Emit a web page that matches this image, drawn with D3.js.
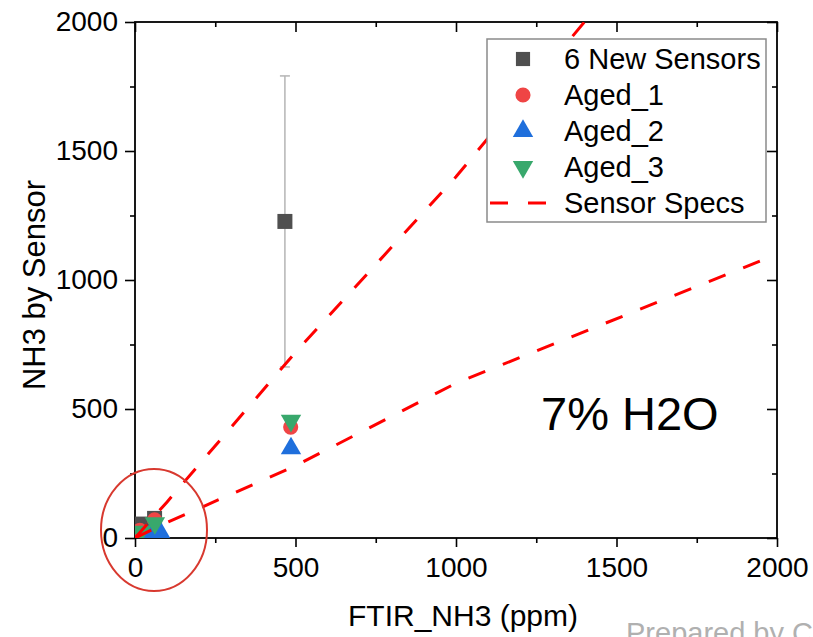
<!DOCTYPE html>
<html>
<head>
<meta charset="utf-8">
<script src="https://cdn.jsdelivr.net/npm/d3@7"></script>
<style>
  body { margin: 0; background: #fff; }
  svg text { font-family: "Liberation Sans", Arial, sans-serif; }
</style>
</head>
<body>
<svg id="chart"></svg>
<script>
var width = 813;
var height = 637;

// data
var seriesNames = ["6 New Sensors", "Aged_1", "Aged_2", "Aged_3", "Sensor Specs"];
var xTicks = [0, 500, 1000, 1500, 2000];
var yTicks = [0, 500, 1000, 1500, 2000];

var newX = [19, 61, 467];
var newY = [54, 76, 1227];
var newErr = [6, 8, 564];

var aged1X = [15, 61, 485];
var aged1Y = [30, 70, 430];

var aged2X = [45, 78, 486];
var aged2Y = [10, 23, 347];

var aged3X = [18, 62, 486];
var aged3Y = [25, 58, 455];

var specX = [0, 100, 500, 1000, 2000];
var specLow = [0, 60, 280, 600, 1100];
var specHigh = [0, 140, 720, 1400, 2900];

var colors = ["#4f4f4f", "#ef4545", "#1f6fdc", "#38a86c", "#ff0000"];

var pLeft = 135, pRight = 777, pTop = 22, pBottom = 538;

var svg = d3.select("#chart")
    .attr("width", width)
    .attr("height", height);

var x = d3.scaleLinear().domain([0, 2000]).range([pLeft, pRight]);
var y = d3.scaleLinear().domain([0, 2000]).range([pBottom, pTop]);

svg.append("defs").append("clipPath")
    .attr("id", "plotclip")
  .append("rect")
    .attr("x", pLeft).attr("y", pTop)
    .attr("width", pRight - pLeft).attr("height", pBottom - pTop);

function minorVals() {
  var v = [];
  for (var i = 250; i < 2000; i += 500) v.push(i);
  return v;
}

// bottom axis, ticks out
var gx = svg.append("g").attr("transform", "translate(0," + pBottom + ")");
gx.call(d3.axisBottom(x).tickValues(xTicks).tickSize(9).tickPadding(10).tickFormat(d3.format("d")));
gx.append("g").call(d3.axisBottom(x).tickValues(minorVals()).tickSize(5).tickFormat(""));

// left axis, ticks out
var gy = svg.append("g").attr("transform", "translate(" + pLeft + ",0)");
gy.call(d3.axisLeft(y).tickValues(yTicks).tickSize(10).tickPadding(7).tickFormat(d3.format("d")));
gy.append("g").call(d3.axisLeft(y).tickValues(minorVals()).tickSize(5).tickFormat(""));

// top and right, ticks in
var gt = svg.append("g").attr("transform", "translate(0," + pTop + ")");
gt.call(d3.axisBottom(x).tickValues(xTicks).tickSize(10).tickFormat(""));
gt.append("g").call(d3.axisBottom(x).tickValues(minorVals()).tickSize(5).tickFormat(""));
var gr = svg.append("g").attr("transform", "translate(" + pRight + ",0)");
gr.call(d3.axisLeft(y).tickValues(yTicks).tickSize(10).tickFormat(""));
gr.append("g").call(d3.axisLeft(y).tickValues(minorVals()).tickSize(5).tickFormat(""));

svg.selectAll(".domain").remove();
svg.selectAll(".tick line").attr("stroke", "#000").attr("stroke-width", 1.6);
svg.selectAll(".tick text").attr("font-size", 28).attr("fill", "#000")
    .style("font-family", "'Liberation Sans', Arial, sans-serif");

svg.append("rect")
    .attr("x", pLeft).attr("y", pTop)
    .attr("width", pRight - pLeft).attr("height", pBottom - pTop)
    .attr("fill", "none").attr("stroke", "#000").attr("stroke-width", 1.8);

// axis titles
svg.append("text")
    .attr("x", 463).attr("y", 626)
    .attr("text-anchor", "middle").attr("font-size", 30)
    .text("FTIR_NH3 (ppm)");
svg.append("text")
    .attr("transform", "translate(45,285) rotate(-90)")
    .attr("text-anchor", "middle").attr("font-size", 31)
    .text("NH3 by Sensor");

var plot = svg.append("g").attr("clip-path", "url(#plotclip)");

// error bars
var errs = newX.map(function(d, i) { return { x: d, y: newY[i], e: newErr[i] }; });
var eb = plot.append("g").attr("stroke", "#b5b5b5").attr("stroke-width", 1.5);
eb.selectAll("line.v").data(errs).enter().append("line")
    .attr("x1", function(d) { return x(d.x); }).attr("x2", function(d) { return x(d.x); })
    .attr("y1", function(d) { return y(d.y - d.e); }).attr("y2", function(d) { return y(d.y + d.e); });
[-1, 1].forEach(function(s) {
  eb.selectAll("line.c" + s).data(errs).enter().append("line")
      .attr("x1", function(d) { return x(d.x) - 5; }).attr("x2", function(d) { return x(d.x) + 5; })
      .attr("y1", function(d) { return y(d.y + s * d.e); }).attr("y2", function(d) { return y(d.y + s * d.e); });
});

function drawSeries(xs, ys, type, size, color, rot) {
  var sym = d3.symbol().type(type).size(size);
  plot.append("g").selectAll("path")
      .data(xs.map(function(d, i) { return [d, ys[i]]; }))
      .enter().append("path")
      .attr("d", sym)
      .attr("fill", color)
      .attr("transform", function(d) {
        return "translate(" + x(d[0]) + "," + y(d[1]) + ") rotate(" + rot + ")";
      });
}

drawSeries(newX, newY, d3.symbolSquare, 225, colors[0], 0);
drawSeries(aged1X, aged1Y, d3.symbolCircle, 180, colors[1], 0);
drawSeries(aged2X, aged2Y, d3.symbolTriangle, 180, colors[2], 0);
drawSeries(aged3X, aged3Y, d3.symbolTriangle, 180, colors[3], 180);

// sensor spec lines
var specLine = d3.line().x(function(d) { return x(d[0]); }).y(function(d) { return y(d[1]); });
[specLow, specHigh].forEach(function(arr) {
  plot.append("path")
      .attr("d", specLine(specX.map(function(d, i) { return [d, arr[i]]; })))
      .attr("fill", "none").attr("stroke", colors[4])
      .attr("stroke-width", 3).attr("stroke-dasharray", "18,19");
});

// annotation
svg.append("text")
    .attr("x", 541).attr("y", 430).attr("font-size", 47)
    .text("7% H2O");

svg.append("ellipse")
    .attr("cx", 154).attr("cy", 530).attr("rx", 53).attr("ry", 61)
    .attr("fill", "none").attr("stroke", "#d8392f").attr("stroke-width", 2);

// legend
var lg = svg.append("g");
lg.append("rect")
    .attr("x", 487).attr("y", 39).attr("width", 279).attr("height", 183)
    .attr("fill", "#fff").attr("stroke", "#8a8a8a").attr("stroke-width", 1.5);
var rowY = [59, 95, 131, 167, 203];
var legendSyms = [
  [d3.symbolSquare, 0], [d3.symbolCircle, 0], [d3.symbolTriangle, 0], [d3.symbolTriangle, 180]
];
legendSyms.forEach(function(s, i) {
  lg.append("path")
      .attr("d", d3.symbol().type(s[0]).size(i == 0 ? 200 : 180))
      .attr("fill", colors[i])
      .attr("transform", "translate(523," + rowY[i] + ") rotate(" + s[1] + ")");
});
lg.append("line")
    .attr("x1", 490).attr("x2", 548).attr("y1", rowY[4]).attr("y2", rowY[4])
    .attr("stroke", colors[4]).attr("stroke-width", 3).attr("stroke-dasharray", "18,20");
lg.selectAll("text.lab").data(seriesNames).enter().append("text")
    .attr("x", 564).attr("y", function(d, i) { return rowY[i] + 10; })
    .attr("font-size", 29)
    .text(function(d) { return d; });

// partly cut off at the bottom edge, as in the original
svg.append("text")
    .attr("x", 626).attr("y", 643).attr("font-size", 29).attr("fill", "#b0b0b0")
    .text("Prepared by C");
</script>
</body>
</html>
